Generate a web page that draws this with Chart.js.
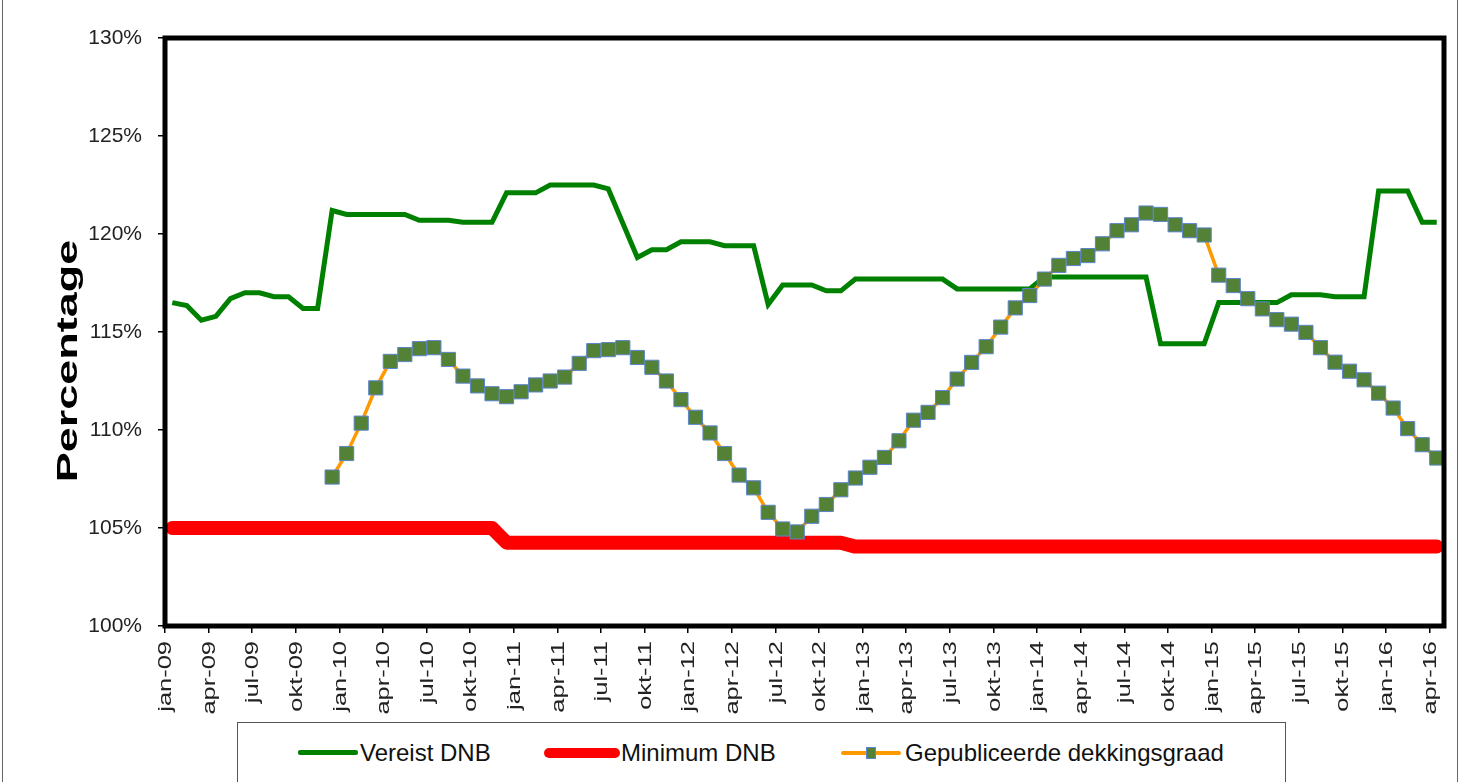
<!DOCTYPE html>
<html>
<head>
<meta charset="utf-8">
<script src="https://cdn.jsdelivr.net/npm/chart.js@4.4.1/dist/chart.umd.min.js"></script>
<style>
  body { margin: 0; background: #fff; overflow: hidden; font-family: "Liberation Sans", Arial, sans-serif; }
  #wrap { position: relative; width: 1464px; height: 782px; }
  #frame { position: absolute; left: 2px; top: -2px; width: 1454px; height: 800px; border: 1px solid #666; }
  #legend { position: absolute; left: 237px; top: 722px; width: 1047px; height: 80px; border: 1.5px solid #555; background: #fff; }
  .item { position: absolute; top: 17px; font-size: 24px; line-height: 26px; color: #111; }
  .swatch { position: absolute; }
</style>
</head>
<body>
<div id="wrap">
  <div id="frame"></div>
  <canvas id="chart" width="1464" height="782"></canvas>
  <div id="legend">
    <div class="swatch" style="left:60px;top:27px;width:60px;height:5px;background:#008000;border-radius:2px"></div>
    <div class="item" style="left:122px">Vereist DNB</div>
    <div class="swatch" style="left:306px;top:25px;width:76px;height:10px;background:#ff0000;border-radius:5px"></div>
    <div class="item" style="left:383px">Minimum DNB</div>
    <div class="swatch" style="left:603px;top:28px;width:60px;height:4px;background:#ff9900;border-radius:2px"></div>
    <div class="swatch" style="left:628px;top:24px;width:8px;height:10px;background:#538135;border:1px solid #5b85cc"></div>
    <div class="item" style="left:667px">Gepubliceerde dekkingsgraad</div>
  </div>
</div>
<script>
const monthNames = ["jan", "feb", "mrt", "apr", "mei", "jun", "jul", "aug", "sep", "okt", "nov", "dec"];
const years = ["09", "10", "11", "12", "13", "14", "15", "16"];
const monthCount = 88; // jan-09 t/m apr-16

const labels = [];
for (let i = 0; i < monthCount; i++) {
  labels.push(monthNames[i % 12] + "-" + years[Math.floor(i / 12)]);
}

const vereistDNB = [
  116.5, 116.35, 115.6, 115.8, 116.7, 117.0, 117.0, 116.8, 116.8, 116.2, 116.2, 121.2,
  121.0, 121.0, 121.0, 121.0, 121.0, 120.7, 120.7, 120.7, 120.6, 120.6, 120.6, 122.1,
  122.1, 122.1, 122.5, 122.5, 122.5, 122.5, 122.3, 120.55, 118.8, 119.2, 119.2, 119.6,
  119.6, 119.6, 119.4, 119.4, 119.4, 116.4, 117.4, 117.4, 117.4, 117.1, 117.1, 117.7,
  117.7, 117.7, 117.7, 117.7, 117.7, 117.7, 117.2, 117.2, 117.2, 117.2, 117.2, 117.2,
  117.8, 117.8, 117.8, 117.8, 117.8, 117.8, 117.8, 117.8, 114.4, 114.4, 114.4, 114.4,
  116.5, 116.5, 116.5, 116.5, 116.5, 116.9, 116.9, 116.9, 116.8, 116.8, 116.8, 122.2,
  122.2, 122.2, 120.6, 120.6
];

const minimumDNB = [
  105.0, 105.0, 105.0, 105.0, 105.0, 105.0, 105.0, 105.0, 105.0, 105.0, 105.0, 105.0,
  105.0, 105.0, 105.0, 105.0, 105.0, 105.0, 105.0, 105.0, 105.0, 105.0, 105.0, 104.25,
  104.25, 104.25, 104.25, 104.25, 104.25, 104.25, 104.25, 104.25, 104.25, 104.25, 104.25, 104.25,
  104.25, 104.25, 104.25, 104.25, 104.25, 104.25, 104.25, 104.25, 104.25, 104.25, 104.25, 104.05,
  104.05, 104.05, 104.05, 104.05, 104.05, 104.05, 104.05, 104.05, 104.05, 104.05, 104.05, 104.05,
  104.05, 104.05, 104.05, 104.05, 104.05, 104.05, 104.05, 104.05, 104.05, 104.05, 104.05, 104.05,
  104.05, 104.05, 104.05, 104.05, 104.05, 104.05, 104.05, 104.05, 104.05, 104.05, 104.05, 104.05,
  104.05, 104.05, 104.05, 104.05
];

const dekkingsgraad = [
  null, null, null, null, null, null, null, null, null, null, null, 107.6,
  108.8, 110.35, 112.15, 113.5, 113.85, 114.15, 114.2, 113.6, 112.75, 112.25, 111.85, 111.7,
  111.95, 112.3, 112.5, 112.7, 113.4, 114.05, 114.1, 114.2, 113.7, 113.2, 112.5, 111.55,
  110.65, 109.85, 108.8, 107.7, 107.05, 105.8, 104.95, 104.8, 105.6, 106.2, 106.95, 107.55,
  108.1, 108.6, 109.45, 110.5, 110.9, 111.65, 112.6, 113.45, 114.25, 115.25, 116.23, 116.86,
  117.7, 118.4, 118.75, 118.9, 119.5, 120.17, 120.47, 121.07, 121.0, 120.47, 120.17, 119.95,
  117.9, 117.37, 116.7, 116.18, 115.63, 115.4, 114.98, 114.2, 113.46, 113.0, 112.56, 111.88,
  111.12, 110.07, 109.25, 108.57
];

const fontFamily = '"Liberation Sans", Arial, sans-serif';

// plot frame, x labels (stretched like the original) and y title
const decorations = {
  id: "decorations",
  afterDraw(chart) {
    const ctx = chart.ctx;
    const area = chart.chartArea;
    const xs = chart.scales.x;

    ctx.save();
    ctx.strokeStyle = "#000";
    ctx.lineWidth = 5;
    ctx.strokeRect(area.left, area.top, area.right - area.left, area.bottom - area.top);
    ctx.restore();

    const half = (xs.getPixelForValue(1) - xs.getPixelForValue(0)) / 2;
    ctx.save();
    ctx.fillStyle = "#222";
    ctx.font = "19px " + fontFamily;
    labels.forEach((lab, i) => {
      if (i % 3 !== 0) return;
      const x = xs.getPixelForValue(i) - half;
      ctx.save();
      ctx.translate(x + 1, area.bottom + 15);
      ctx.rotate(-Math.PI / 2);
      ctx.scale(1.34, 1);
      ctx.textAlign = "right";
      ctx.textBaseline = "middle";
      ctx.fillText(lab, 0, 0);
      ctx.restore();
    });
    ctx.restore();

    ctx.save();
    ctx.fillStyle = "#000";
    ctx.font = "bold 29px " + fontFamily;
    ctx.translate(77, 361);
    ctx.rotate(-Math.PI / 2);
    ctx.scale(1.55, 1);
    ctx.textAlign = "center";
    ctx.textBaseline = "alphabetic";
    ctx.fillText("Percentage", 0, 0);
    ctx.restore();
  }
};

new Chart(document.getElementById("chart").getContext("2d"), {
  type: "line",
  data: {
    labels: labels,
    datasets: [
      {
        label: "Vereist DNB",
        data: vereistDNB,
        borderColor: "#008000",
        borderWidth: 5,
        pointRadius: 0,
        tension: 0,
        order: 3
      },
      {
        label: "Minimum DNB",
        data: minimumDNB,
        borderColor: "#ff0000",
        borderWidth: 14,
        borderCapStyle: "round",
        borderJoinStyle: "round",
        pointRadius: 0,
        tension: 0,
        order: 2
      },
      {
        label: "Gepubliceerde dekkingsgraad",
        data: dekkingsgraad,
        borderColor: "#ff9900",
        borderWidth: 3.5,
        pointStyle: "rect",
        pointRadius: 10,
        pointBackgroundColor: "#538135",
        pointBorderColor: "#5b85cc",
        pointBorderWidth: 1,
        tension: 0,
        spanGaps: false,
        order: 1
      }
    ]
  },
  options: {
    responsive: false,
    animation: false,
    layout: { padding: { top: 38, right: 20, left: 0, bottom: 0 } },
    plugins: {
      legend: { display: false },
      tooltip: { enabled: false }
    },
    scales: {
      x: {
        offset: true,
        border: { display: false },
        grid: {
          offset: true,
          drawOnChartArea: false,
          tickLength: 7,
          lineWidth: 1.5,
          color: c => (c.index % 3 === 0 ? "#000" : "rgba(0,0,0,0)")
        },
        ticks: { display: false, autoSkip: false },
        afterFit: s => { s.height = 156; }
      },
      y: {
        min: 100,
        max: 130,
        border: { display: false },
        grid: { drawOnChartArea: false, tickLength: 7, lineWidth: 1.5, color: "#000" },
        ticks: {
          stepSize: 5,
          padding: 16,
          color: "#222",
          font: { family: fontFamily, size: 21 },
          callback: v => v + "%"
        },
        afterFit: s => { s.width = 165; }
      }
    }
  },
  plugins: [decorations]
});
</script>
</body>
</html>
